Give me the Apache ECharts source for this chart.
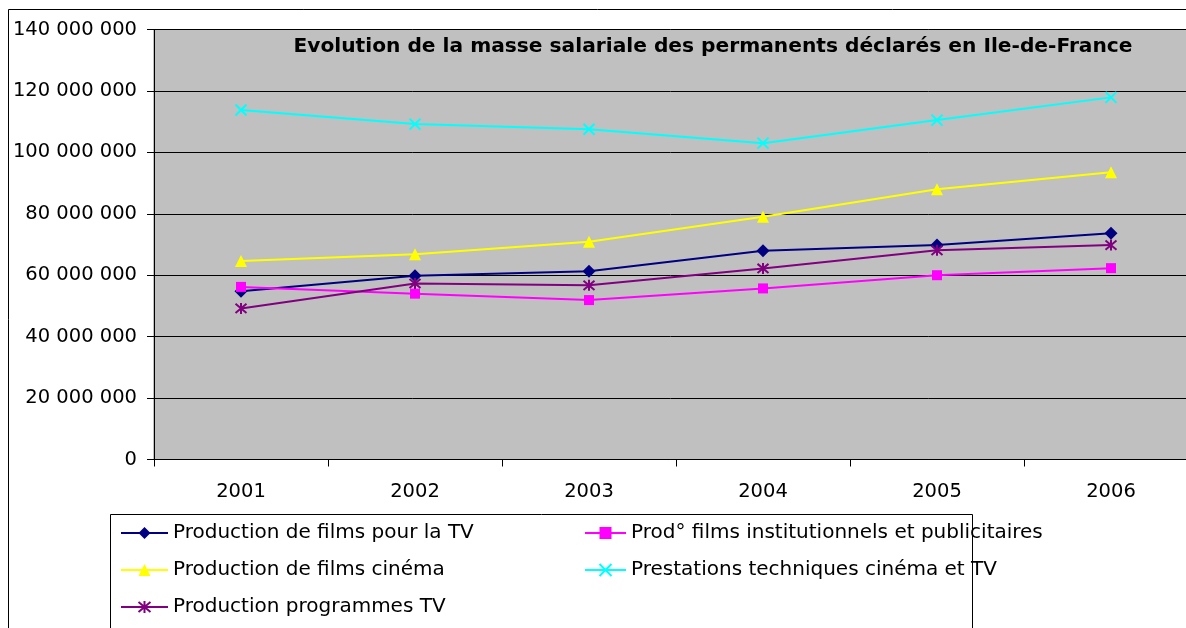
<!DOCTYPE html>
<html>
<head>
<meta charset="utf-8">
<script src="https://cdn.jsdelivr.net/npm/echarts@6/dist/echarts.min.js"></script>
<style>
html,body{margin:0;padding:0;background:#fff;}
#c{width:1186px;height:628px;}
</style>
</head>
<body>
<div id="c"></div>
<script>
const years = ['2001','2002','2003','2004','2005','2006'];
const filmsTV = [54800000, 59800000, 61300000, 68000000, 69800000, 73700000];
const institutionnels = [56200000, 54000000, 51900000, 55700000, 60000000, 62300000];
const filmsCinema = [64600000, 66800000, 70900000, 79000000, 88000000, 93500000];
const prestations = [113800000, 109200000, 107500000, 103000000, 110500000, 117900000];
const programmesTV = [49200000, 57300000, 56700000, 62200000, 68100000, 69800000];
const seriesNames = [
  'Production de films pour la TV',
  'Prod° films institutionnels et publicitaires',
  'Production de films cinéma',
  'Prestations techniques cinéma et TV',
  'Production programmes TV'
];
const yTicks = {min: 0, max: 140000000, interval: 20000000};
const titleText = 'Evolution de la masse salariale des permanents déclarés en Ile-de-France';

const FONT = 'DejaVu Sans';
const chart = echarts.init(document.getElementById('c'), null, {renderer: 'canvas'});

function fmt(v){
  return String(Math.round(v)).replace(/\B(?=(\d{3})+(?!\d))/g, ' ');
}

const xPath = 'path://M0,0L10,10M10,0L0,10';
const starPath = 'path://M0,0L10,10M10,0L0,10M5,-1L5,11';

function mk(name, data, color, symbol, size, stroke){
  const s = {
    name: name, type: 'line', data: data,
    symbol: symbol, symbolSize: size,
    lineStyle: {color: color, width: 2},
    itemStyle: {color: color},
    emphasis: {disabled: true},
    animation: false
  };
  if (stroke) {
    s.itemStyle = {color: 'rgba(0,0,0,0)', borderColor: color, borderWidth: 2};
  }
  return s;
}

const legendCommon = {
  orient: 'vertical', top: 522, padding: 0,
  itemHeight: 15, itemGap: 15, itemTextGap: 5,
  textStyle: {fontFamily: FONT, fontSize: 20, color: '#000', lineHeight: 22},
  selectedMode: false
};

const option = {
  animation: false,
  title: {
    text: titleText,
    left: 708, top: 32, textAlign: 'center',
    textStyle: {fontFamily: FONT, fontSize: 20.2, fontWeight: 'bold', color: '#000'}
  },
  grid: {
    left: 154, top: 29.5, width: 1044, bottom: 168.5,
    outerBoundsMode: 'none',
    show: true, backgroundColor: '#C0C0C0', borderColor: '#808080', borderWidth: 1,
    containLabel: false
  },
  legend: [
    Object.assign({}, legendCommon, {
      data: [seriesNames[0], seriesNames[2], seriesNames[4]],
      left: 120, itemWidth: 47
    }),
    Object.assign({}, legendCommon, {
      data: [seriesNames[1], seriesNames[3]],
      left: 584, itemWidth: 41
    })
  ],
  xAxis: {
    type: 'category', data: years, boundaryGap: true,
    axisLine: {lineStyle: {color: '#000', width: 1}},
    axisTick: {show: true, length: 7, lineStyle: {color: '#000'}},
    axisLabel: {fontFamily: FONT, fontSize: 19.5, color: '#000', margin: 22}
  },
  yAxis: {
    type: 'value', min: yTicks.min, max: yTicks.max, interval: yTicks.interval,
    axisLine: {show: true, lineStyle: {color: '#000', width: 1}},
    axisTick: {show: true, length: 7, lineStyle: {color: '#000'}},
    splitLine: {show: true, lineStyle: {color: '#000', width: 1}},
    axisLabel: {fontFamily: FONT, fontSize: 19.5, color: '#000', margin: 17, formatter: fmt}
  },
  graphic: [
    {
      type: 'rect', z: -10, silent: true,
      shape: {x: 8.5, y: 9.5, width: 1300, height: 700},
      style: {fill: 'none', stroke: '#000', lineWidth: 1}
    },
    {
      type: 'rect', z: 100, silent: true,
      shape: {x: 110.5, y: 514.5, width: 862, height: 200},
      style: {fill: 'none', stroke: '#000', lineWidth: 1}
    }
  ],
  series: [
    mk(seriesNames[0], filmsTV, '#000080', 'diamond', 13),
    mk(seriesNames[1], institutionnels, '#FF00FF', 'rect', 10),
    mk(seriesNames[2], filmsCinema, '#FFFF00', 'triangle', 12),
    mk(seriesNames[3], prestations, '#00FFFF', xPath, 11, true),
    mk(seriesNames[4], programmesTV, '#800080', starPath, 11, true)
  ]
};
chart.setOption(option);
</script>
</body>
</html>
